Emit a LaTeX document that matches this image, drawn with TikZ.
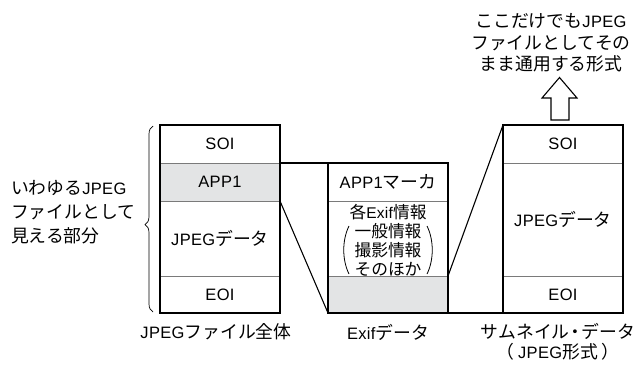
\documentclass[tikz,border=0pt]{standalone}
\usepackage{fontspec}
\setmainfont{Liberation Sans}[LetterSpace=2]
\newfontfamily\jp{Noto Sans CJK JP}[Scale=1.08]
\newcommand\J[1]{{\jp #1}}
\usetikzlibrary{decorations.pathreplacing}
\definecolor{cellgray}{HTML}{E3E4E5}
\definecolor{divgray}{HTML}{7A7A7A}
\begin{document}
\begin{tikzpicture}[x=1pt,y=-1pt,
  every node/.style={inner sep=0pt,outer sep=0pt,font=\fontsize{16.5}{19}\selectfont},
  cell/.style={draw=divgray,line width=0.8pt,minimum width=120pt,anchor=center},
  outer/.style={draw=black,line width=1.6pt},
  conn/.style={draw=black,line width=1.1pt},
  lbl/.style={align=center}]
\useasboundingbox (0,0) rectangle (636,364);
% left column
\node[cell,minimum height=38pt] (soiA) at (220,144) {SOI};
\node[cell,minimum height=38pt,fill=cellgray] (app1) at (220,182) {APP1};
\node[cell,minimum height=75pt] (jpgA) at (220,238.5) {JPEG\J{データ}};
\node[cell,minimum height=37pt] (eoiA) at (220,294.5) {EOI};
\draw[outer] (soiA.north west) rectangle (eoiA.south east);
% exif column
\node[cell,minimum height=38pt] (marker) at (388,182) {APP1\J{マーカ}};
\node[cell,minimum height=75pt] (info) at (388,238.5) {};
\node[cell,minimum height=37pt,fill=cellgray] (grayc) at (388,294.5) {};
\draw[outer] (marker.north west) rectangle (grayc.south east);
\node[lbl,font=\fontsize{15.5}{19}\selectfont] (infotxt) at (388,240) {\J{各}Exif\J{情報}\\\J{一般情報}\\\J{撮影情報}\\\J{そのほか}};
\draw[line width=0.8pt] (349,226) .. controls (342,240) and (342,260) .. (349,274);
\draw[line width=0.8pt] (427,226) .. controls (434,240) and (434,260) .. (427,274);
% thumbnail column
\node[cell,minimum height=38pt] (soiT) at (563,144) {SOI};
\node[cell,minimum height=113pt] (jpgT) at (563,219.5) {JPEG\J{データ}};
\node[cell,minimum height=37pt] (eoiT) at (563,294.5) {EOI};
\draw[outer] (soiT.north west) rectangle (eoiT.south east);
% connectors
\draw[conn] (app1.north east) -- (marker.north west);
\draw[conn] (app1.south east) -- (grayc.south west);
\draw[conn] (grayc.north east) -- (soiT.north west);
\draw[conn] (grayc.south east) -- (eoiT.south west);
% brace and left label
\draw[line width=0.7pt,decorate,decoration={brace,amplitude=8pt,aspect=0.47}] (153,312) -- (153,126);
\node[align=left,anchor=west,font=\fontsize{16.5}{24}\selectfont] (leftlbl) at (11,212) {\J{いわゆる}JPEG\\\J{ファイルとして}\\\J{見える部分}};
% bottom labels
\node (capA) at (216,332) {JPEG\J{ファイル全体}};
\node (capE) at (388,332) {Exif\J{データ}};
\node[lbl,font=\fontsize{16.5}{20}\selectfont] (capT) at (558,342) {\J{サムネイル}\hspace{-3pt}\J{・}\hspace{-3pt}\J{データ}\\\J{（}\hspace{4pt}JPEG\J{形式}\hspace{4pt}\J{）}};
% top label and hollow arrow
\node[lbl,font=\fontsize{16.5}{21.5}\selectfont] (toplbl) at (551,43) {\J{ここだけでも}JPEG\\\J{ファイルとしてその}\\\J{まま通用する形式}};
\draw[line width=1.1pt,line join=miter] (551,120) -- (551,98) -- (542,98) -- (559.5,77.5) -- (577,98) -- (569,98) -- (569,120) -- cycle;
\end{tikzpicture}
\end{document}
